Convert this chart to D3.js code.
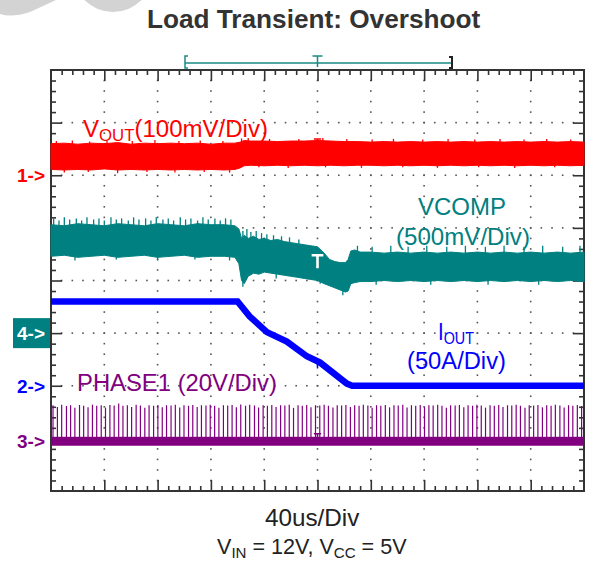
<!DOCTYPE html>
<html><head><meta charset="utf-8">
<script src="https://cdn.jsdelivr.net/npm/d3@7"></script>
<style>body{margin:0;background:#fff}svg{display:block}text{font-family:"Liberation Sans",Arial,sans-serif}</style>
</head><body>
<svg id="chart" width="594" height="565"></svg>
<script>
// Scope screen: 10 x 8 divisions, 40 us/div, trigger at t = 0
const timeDomain = [-200, 200];
const divDomain = [-4, 4];
const usPerDiv = 40;

// Channel 1: VOUT, mV relative to its ground marker (100 mV/div)
const voutTime = [-200,-190,-180,-170,-160,-150,-140,-130,-120,-110,-100,-90,-80,-70,-62,-58,-55,-50,-40,-30,-20,-10,0,10,20,30,40,50,60,70,80,90,100,110,120,130,140,150,160,170,180,190,200];
const voutHigh = [60,61,59,61,60,62,59,61,60,61,60,61,59,61,61,63,66,65,65,64,65,65,66,65,64,64,63,64,63,64,63,64,63,64,63,64,63,64,63,64,63,64,63];
const voutLow  = [11,10,11,10,12,10,11,10,11,10,11,10,11,10,11,14,18,19,18,19,18,19,18,19,18,19,19,18,19,18,19,18,19,18,19,18,19,18,19,18,19,18,19];
const voutSpikes = [[-196,65],[-184,66],[-171,64],[-158,66],[-139,65],[-122,67],[-104,65],[-88,66],[-71,65],[-57,70],[-52,71],[-36,69],[-14,69],[4,71],[22,69],[41,68],[57,69],[79,68],[98,69],[118,68],[137,69],[155,68],[172,69],[190,68],
  [-190,5],[-172,6],[-150,4],[-128,6],[-107,5],[-85,6],[-66,5],[-44,15],[-22,14],[6,15],[33,14],[64,15],[90,14],[121,15],[148,14],[178,15]];

// Channel 4: VCOMP, V relative to its marker (500 mV/div)
const vcompTime = [-200,-190,-180,-170,-160,-150,-140,-130,-120,-110,-100,-90,-80,-70,-62,-59,-57,-55,-52,-48,-44,-40,-35,-30,-25,-20,-15,-10,-5,0,5,9,13,17,21,23,25,28,32,40,50,60,70,80,90,100,110,120,130,140,150,160,170,180,190,200];
const vcompHigh = [1.03,1.02,1.04,1.03,1.02,1.04,1.03,1.02,1.04,1.03,1.02,1.04,1.03,1.03,1.02,0.99,0.90,0.93,0.90,0.92,0.89,0.90,0.88,0.89,0.87,0.86,0.85,0.84,0.83,0.82,0.76,0.70,0.68,0.67,0.67,0.70,0.78,0.79,0.77,0.77,0.76,0.77,0.76,0.77,0.76,0.77,0.76,0.77,0.76,0.77,0.76,0.77,0.76,0.77,0.76,0.77];
const vcompLow  = [0.73,0.74,0.72,0.73,0.74,0.72,0.73,0.74,0.72,0.73,0.74,0.72,0.73,0.73,0.72,0.66,0.50,0.47,0.54,0.57,0.56,0.58,0.57,0.56,0.55,0.54,0.53,0.52,0.51,0.50,0.47,0.45,0.43,0.41,0.39,0.40,0.47,0.48,0.49,0.49,0.50,0.49,0.50,0.49,0.50,0.49,0.50,0.49,0.50,0.49,0.50,0.49,0.50,0.49,0.50,0.49];
const vcompSpikes = [[-198,1.09],[-194,1.07],[-190,1.10],[-186,1.08],[-181,1.09],[-177,1.07],[-173,1.10],[-168,1.08],[-164,1.09],[-160,1.07],[-155,1.10],[-151,1.08],[-147,1.09],[-142,1.07],[-138,1.10],[-134,1.08],[-129,1.09],[-125,1.07],[-121,1.10],[-116,1.08],[-112,1.09],[-108,1.07],[-103,1.10],[-99,1.08],[-95,1.09],[-90,1.07],[-86,1.10],[-82,1.08],[-77,1.09],[-73,1.07],[-69,1.09],[-65,1.08],
  [-56,0.97],[-53,0.99],[-50,0.96],[-46,0.97],[-42,0.95],[-38,0.94],[-33,0.93],[-27,0.92],[-21,0.91],[-14,0.89],
  [30,0.83],[41,0.82],[55,0.83],[68,0.82],[82,0.83],[97,0.82],[111,0.83],[126,0.82],[140,0.83],[155,0.82],[169,0.83],[184,0.82],[197,0.83],
  [-182,0.69],[-151,0.70],[-120,0.69],[-92,0.70],[-66,0.69],[-56,0.44],[-31,0.52],[2,0.47],[19,0.36],[44,0.46],[85,0.46],[128,0.46],[166,0.46]];

// Channel 2: IOUT, A relative to its marker (50 A/div)
const ioutTime  = [-200,-60,-51,-38,-23,-8,2,12,22,26,200];
const ioutValue = [80,80,66,51,42,28,22,12,2,0,0];

// Channel 3: PHASE1 switching pulses [time us, peak V], and the ringing band around 0 V
const phasePulses = [[-198.5,13.6],[-195.2,12.9],[-192.0,13.8],[-188.4,13.3],[-185.3,13.6],[-182.1,12.6],[-178.6,13.7],[-175.5,13.4],[-172.2,12.8],[-168.9,13.8],
  [-165.7,13.4],[-162.3,13.6],[-159.1,12.7],[-155.8,13.7],[-152.6,13.5],[-149.2,14.3],[-146.0,13.4],[-142.7,13.6],[-139.5,12.9],[-136.1,13.8],
  [-132.9,13.5],[-129.6,12.6],[-126.4,13.6],[-123.0,13.4],[-119.8,13.7],[-116.5,12.8],[-113.3,13.6],[-109.9,13.5],[-106.7,13.8],[-103.4,12.7],
  [-100.2,13.6],[-96.8,13.4],[-93.6,13.7],[-90.3,12.9],[-87.1,13.6],[-83.7,13.5],[-80.5,13.8],[-77.2,13.4],[-74.0,12.6],[-70.6,13.6],
  [-67.4,13.5],[-64.1,13.7],[-60.9,12.8],[-57.6,13.9],[-54.0,13.4],[-50.9,13.8],[-47.3,13.5],[-44.2,12.7],[-40.8,13.6],[-37.6,13.4],
  [-34.3,13.7],[-31.1,12.9],[-27.7,13.6],[-24.5,13.5],[-21.2,13.8],[-18.0,12.6],[-14.6,13.6],[-11.4,13.4],[-8.1,13.7],[-4.9,12.8],
  [-1.5,13.6],[1.7,13.5],[5.0,13.8],[8.2,13.4],[11.6,12.7],[14.8,13.6],[18.1,13.5],[21.3,13.7],[24.7,12.9],[27.9,13.6],
  [31.2,13.4],[34.4,13.8],[37.8,13.5],[41.0,12.6],[44.3,13.6],[47.5,13.4],[50.9,13.7],[54.1,12.8],[57.4,13.6],[60.6,13.5],
  [64.0,13.8],[67.2,12.7],[70.5,13.6],[73.7,13.4],[77.1,13.7],[80.3,12.9],[83.6,13.6],[86.8,13.5],[90.2,13.8],[93.4,13.4],
  [96.7,12.6],[99.9,13.6],[103.3,13.5],[106.5,13.7],[109.8,12.8],[113.0,13.6],[116.4,13.4],[119.6,13.8],[122.9,13.5],[126.1,12.7],
  [129.5,13.6],[132.7,13.4],[136.0,13.7],[139.2,12.9],[142.6,13.6],[145.8,13.5],[149.1,13.8],[152.3,13.4],[155.7,12.6],[158.9,13.6],
  [162.2,13.5],[165.4,13.7],[168.8,12.8],[172.0,13.6],[175.3,13.4],[178.5,13.8],[181.9,13.5],[185.1,12.7],[188.4,13.6],[191.6,13.4],
  [195.0,13.7],[198.2,13.3]];
const phaseBaseHigh = 1.6, phaseBaseLow = -1.8;

const channels = {
  vout:  {perDiv: 100, offset: 2.0,   color: "#ff0000"},
  vcomp: {perDiv: 0.5, offset: -1.0,  color: "#008080"},
  iout:  {perDiv: 50,  offset: -2.0,  color: "#0000ff"},
  phase: {perDiv: 20,  offset: -3.05, color: "#800080"}
};

const svg = d3.select("#chart");
const x = d3.scaleLinear().domain(timeDomain).range([51, 584]);
const yDiv = d3.scaleLinear().domain(divDomain).range([491, 70]);
const yOf = ch => v => yDiv(ch.offset + v / ch.perDiv);

// scale a text element horizontally so it spans [x0, x1]
function fit(t, x0, x1) {
  const b = t.node().getBBox();
  const k = (x1 - x0) / b.width;
  t.attr("transform", `translate(${x0},0) scale(${k},1) translate(${-b.x},0)`);
  return t;
}

// watermark shapes in the top-left corner
svg.append("path").attr("d", "M0,0 L56,0 L30,12 Q12,18 0,14 Z").attr("fill", "#d3d3d3");
svg.append("circle").attr("cx", 113).attr("cy", -28).attr("r", 40).attr("fill", "#d3d3d3");

// title
fit(svg.append("text").attr("x", 0).attr("y", 28)
  .attr("font-size", 25).attr("font-weight", "bold").attr("fill", "#333").text("Load Transient: Overshoot"), 147, 481);

// grid dots along major lines
const gridG = svg.append("g").attr("fill", "#555");
const minorT = d3.range(timeDomain[0], timeDomain[1] + 0.1, usPerDiv / 5);
const minorD = d3.range(divDomain[0], divDomain[1] + 0.01, 0.2);
const majorT = d3.range(timeDomain[0] + usPerDiv, timeDomain[1], usPerDiv);
const majorD = d3.range(divDomain[0] + 1, divDomain[1], 1);
majorD.forEach(d => minorT.forEach(t => gridG.append("rect").attr("x", x(t) - 0.8).attr("y", yDiv(d) - 0.8).attr("width", 1.6).attr("height", 1.6)));
majorT.forEach(t => minorD.forEach(d => gridG.append("rect").attr("x", x(t) - 0.8).attr("y", yDiv(d) - 0.8).attr("width", 1.6).attr("height", 1.6)));

// border ticks
function ticks(axisFn, scale, values, size, transform) {
  const g = svg.append("g").attr("transform", transform)
    .call(axisFn(scale).tickValues(values).tickSize(size).tickFormat(""));
  g.select(".domain").remove();
  g.selectAll("line").attr("stroke", "#333").attr("stroke-width", 1.6);
}
const minorTv = minorT.filter(t => (t - timeDomain[0]) % usPerDiv !== 0);
const minorDv = minorD.filter(d => Math.abs(d - Math.round(d)) > 0.01);
ticks(d3.axisBottom, x, minorTv, 5, `translate(0,${yDiv(4)})`);
ticks(d3.axisBottom, x, majorT, 11, `translate(0,${yDiv(4)})`);
ticks(d3.axisBottom, x, minorTv, -5, `translate(0,${yDiv(-4)})`);
ticks(d3.axisBottom, x, majorT, -11, `translate(0,${yDiv(-4)})`);
ticks(d3.axisLeft, yDiv, minorDv, -5, `translate(${x(-200)},0)`);
ticks(d3.axisLeft, yDiv, majorD, -11, `translate(${x(-200)},0)`);
ticks(d3.axisLeft, yDiv, minorDv, 5, `translate(${x(200)},0)`);
ticks(d3.axisLeft, yDiv, majorD, 11, `translate(${x(200)},0)`);
svg.append("rect").attr("x", x(-200)).attr("y", yDiv(4)).attr("width", x(200) - x(-200)).attr("height", yDiv(-4) - yDiv(4))
  .attr("fill", "none").attr("stroke", "#333").attr("stroke-width", 2);

// band trace with spikes
function band(ch, time, high, low, spikes) {
  const y = yOf(ch);
  const hi = d3.scaleLinear().domain(time).range(high);
  const lo = d3.scaleLinear().domain(time).range(low);
  const pts = time.map((t, i) => [t, high[i], low[i]]);
  svg.append("path").datum(pts)
    .attr("d", d3.area().x(d => x(d[0])).y0(d => y(d[2])).y1(d => y(d[1])))
    .attr("fill", ch.color).attr("stroke", ch.color).attr("stroke-width", 1);
  svg.append("g").selectAll("line").data(spikes).join("line")
    .attr("x1", d => x(d[0])).attr("x2", d => x(d[0]))
    .attr("y1", d => y(d[1]))
    .attr("y2", d => y((hi(d[0]) + lo(d[0])) / 2))
    .attr("stroke", ch.color).attr("stroke-width", 1.3);
}
band(channels.vout, voutTime, voutHigh, voutLow, voutSpikes);
band(channels.vcomp, vcompTime, vcompHigh, vcompLow, vcompSpikes);

// IOUT
{
  const ch = channels.iout, y = yOf(ch);
  svg.append("path").datum(ioutTime.map((t, i) => [t, ioutValue[i]]))
    .attr("d", d3.line().x(d => x(d[0])).y(d => y(d[1])))
    .attr("fill", "none").attr("stroke", ch.color).attr("stroke-width", 6.5);
}

// PHASE1 switching pulses
{
  const ch = channels.phase, y = yOf(ch);
  svg.append("g").selectAll("line").data(phasePulses).join("line")
    .attr("x1", d => x(d[0])).attr("x2", d => x(d[0]))
    .attr("y1", d => y(d[1])).attr("y2", y(0))
    .attr("stroke", ch.color).attr("stroke-width", 1.2);
  svg.append("rect").attr("x", x(-200)).attr("y", y(phaseBaseHigh)).attr("width", x(200) - x(-200))
    .attr("height", y(phaseBaseLow) - y(phaseBaseHigh)).attr("fill", ch.color);
}

// trigger markers on each trace
function tMark(cx, cy, color, w, h) {
  svg.append("path").attr("d", `M${cx - h * 0.45},${cy} H${cx + h * 0.45} M${cx},${cy} V${cy + h}`)
    .attr("stroke", color).attr("stroke-width", w).attr("fill", "none");
}
tMark(x(0), yOf(channels.vout)(69), "#ff0000", 1.5, 8);
tMark(x(0), yOf(channels.vcomp)(0.74), "#ffffff", 2.6, 13);
tMark(x(0), yOf(channels.iout)(24), "#0000ff", 1.5, 8);
tMark(x(0), yOf(channels.phase)(2.8), "#800080", 1.5, 8);

// trigger window bracket above the screen
{
  const yb = 63;
  svg.append("line").attr("x1", 185).attr("x2", 452).attr("y1", yb).attr("y2", yb).attr("stroke", "#1a8a85").attr("stroke-width", 1.5);
  svg.append("path").attr("d", `M188,${yb - 7} H185 V${yb + 5} H188`).attr("stroke", "#1a8a85").attr("stroke-width", 1.5).attr("fill", "none");
  svg.append("path").attr("d", `M449,${yb - 6} H452 V${yb + 5} H449`).attr("stroke", "#222").attr("stroke-width", 2).attr("fill", "none");
  svg.append("path").attr("d", `M${x(0) - 5},${yb - 7} H${x(0) + 5} M${x(0)},${yb - 7} V${yb + 4}`).attr("stroke", "#1a8a85").attr("stroke-width", 1.5).attr("fill", "none");
}

// channel labels
function label(yp, color, parts, size) {
  const t = svg.append("text").attr("x", 0).attr("y", yp).attr("fill", color).attr("font-size", size);
  parts.forEach(p => {
    const s = t.append("tspan").text(p.text);
    if (p.sub) s.attr("font-size", size * 0.7).attr("dy", 4);
    else if (p.after) s.attr("dy", -4);
  });
  return t;
}
fit(label(137, "#ff0000", [{text: "V"}, {text: "OUT", sub: true}, {text: "(100mV/Div)", after: true}], 23.5), 83, 268);
fit(label(215, "#008080", [{text: "VCOMP"}], 24), 418, 506);
fit(label(245, "#008080", [{text: "(500mV/Div)"}], 24), 396, 530);
fit(label(340, "#0000ff", [{text: "I"}, {text: "OUT", sub: true}], 24), 438, 474);
fit(label(369, "#0000ff", [{text: "(50A/Div)"}], 24), 407, 506);
fit(label(391, "#800080", [{text: "PHASE1 (20V/Div)"}], 23.5), 77, 277);

// channel ground markers
function marker(yp, color, txt, boxed) {
  if (boxed) svg.append("rect").attr("x", 13).attr("y", yp - 15).attr("width", 37).attr("height", 30).attr("fill", color);
  fit(svg.append("text").attr("x", 0).attr("y", yp + 7).attr("fill", boxed ? "#fff" : color)
    .attr("font-size", 19).attr("font-weight", "bold").text(txt), 17, 45);
}
marker(yOf(channels.vout)(0), "#ff0000", "1->");
marker(yOf(channels.vcomp)(0), "#008080", "4->", true);
marker(yOf(channels.iout)(0), "#0000ff", "2->");
marker(yOf(channels.phase)(0), "#800080", "3->");

// footer
fit(svg.append("text").attr("x", 0).attr("y", 526).attr("font-size", 23).attr("fill", "#222").text("40us/Div"), 265, 360);
fit(label(554, "#222", [{text: "V"}, {text: "IN", sub: true}, {text: " = 12V, V", after: true}, {text: "CC", sub: true}, {text: " = 5V", after: true}], 22), 217, 407);
</script>
</body></html>
